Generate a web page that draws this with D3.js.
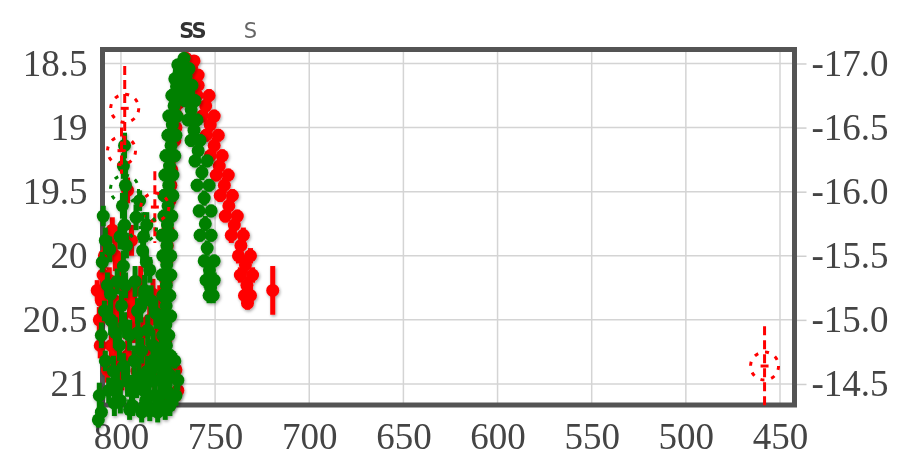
<!DOCTYPE html>
<html>
<head>
<meta charset="utf-8">
<script src="https://cdn.jsdelivr.net/npm/d3@7"></script>
<style>
  body { margin: 0; background: #fff; }
  svg { display: block; filter: blur(0.6px); }
</style>
</head>
<body>
<svg id="chart" width="898" height="459"></svg>
<script>
// x axis is in days (reversed), left axis apparent mag, right axis absolute mag
const xTicks = [800, 750, 700, 650, 600, 550, 500, 450]
const magTicks = [18.5, 19, 19.5, 20, 20.5, 21]
const absTicks = [-17.0, -16.5, -16.0, -15.5, -15.0, -14.5]
const distMod = 35.5
const spectraDays = [762.3, 731.8]
const spectraText = ['SS', 'S']

// [day, mag, err]
const redPoints = [
  // early cluster
  [811.5, 20.50, 0.1], [810.4, 20.35, 0.1], [812.6, 20.27, 0.08], [806.2, 20.19, 0.1],
  [803.5, 20.35, 0.12], [801.9, 20.50, 0.1], [795.4, 20.35, 0.12], [792.8, 20.58, 0.1],
  [790.1, 20.74, 0.12], [787.4, 20.86, 0.1], [796.5, 20.78, 0.12], [805.1, 20.70, 0.1],
  [807.2, 20.89, 0.1], [792.8, 20.27, 0.1], [784.7, 20.50, 0.12], [781.0, 20.62, 0.1],
  [779.4, 20.35, 0.12], [782.1, 20.97, 0.1], [776.7, 21.09, 0.08], [773.0, 21.13, 0.08],
  [769.8, 21.05, 0.08], [770.8, 20.89, 0.08], [800.8, 20.08, 0.1], [808.8, 20.0, 0.1],
  [804.6, 19.80, 0.1], [794.4, 19.88, 0.12], [796.5, 19.49, 0.1],
  [809.5, 20.15, 0.1], [811.0, 20.70, 0.1], [803.0, 20.0, 0.12], [799.0, 20.25, 0.12],
  [797.5, 20.55, 0.1], [793.5, 20.45, 0.12], [791.5, 20.90, 0.1], [788.5, 20.60, 0.12],
  [785.5, 20.75, 0.1], [783.0, 20.30, 0.12], [780.0, 20.80, 0.1], [778.0, 20.95, 0.1],
  [799.5, 20.95, 0.1], [802.5, 20.80, 0.12], [806.0, 20.45, 0.1], [789.5, 20.20, 0.12],
  // rise
  [775.6, 20.97, 0.06], [776.2, 20.66, 0.06], [776.7, 20.35, 0.05], [775.6, 20.04, 0.05],
  [775.1, 19.80, 0.05], [774.0, 19.57, 0.05], [773.0, 19.33, 0.05], [771.4, 19.10, 0.05],
  [770.3, 18.91, 0.05], [768.7, 18.71, 0.05], [767.1, 18.55, 0.04], [765.5, 18.46, 0.04],
  [776.0, 20.82, 0.06], [776.5, 20.50, 0.06], [776.0, 20.20, 0.06], [775.4, 19.92, 0.06],
  [774.6, 19.68, 0.06], [773.5, 19.45, 0.06], [772.2, 19.22, 0.06], [770.8, 19.00, 0.06],
  [769.5, 18.81, 0.06], [767.9, 18.62, 0.05],
  // decline
  [765.5, 18.48, 0.04], [761.2, 18.48, 0.04], [763.9, 18.59, 0.04], [759.0, 18.59, 0.04],
  [759.6, 18.75, 0.05], [753.2, 18.75, 0.05], [756.9, 18.91, 0.05], [750.5, 18.91, 0.05],
  [754.8, 19.06, 0.05], [748.3, 19.06, 0.05], [752.6, 19.22, 0.05], [746.2, 19.22, 0.05],
  [749.4, 19.37, 0.05], [743.0, 19.37, 0.05], [747.3, 19.53, 0.05], [740.8, 19.53, 0.05],
  [744.6, 19.69, 0.05], [738.2, 19.69, 0.05], [741.4, 19.84, 0.06], [735.0, 19.84, 0.06],
  [737.6, 20.0, 0.06], [731.2, 20.0, 0.06], [736.6, 20.15, 0.06], [730.1, 20.15, 0.06],
  [734.4, 20.31, 0.07], [731.2, 20.31, 0.07],
  [762.5, 18.53, 0.05], [759.0, 18.67, 0.05], [755.0, 18.83, 0.06], [752.6, 18.98, 0.06],
  [750.5, 19.14, 0.06], [747.8, 19.30, 0.06], [745.1, 19.45, 0.06], [742.7, 19.61, 0.06],
  [739.8, 19.76, 0.06], [736.3, 19.92, 0.06], [733.9, 20.07, 0.07], [733.1, 20.23, 0.07],
  [732.8, 20.37, 0.05],
  [719.4, 20.27, 0.19]
]

const greenPoints = [
  // early cluster
  [798.1, 19.14, 0.1], [798.7, 19.30, 0.1], [797.6, 19.45, 0.12], [799.2, 19.61, 0.1],
  [798.1, 19.76, 0.12], [797.1, 19.92, 0.1], [798.7, 20.08, 0.12], [797.6, 20.23, 0.1],
  [799.7, 20.39, 0.12], [798.1, 20.54, 0.1], [800.8, 20.70, 0.12], [798.7, 20.86, 0.1],
  [801.9, 21.01, 0.12], [800.3, 21.13, 0.1],
  [809.4, 19.69, 0.08], [808.3, 19.88, 0.1], [809.9, 20.05, 0.08], [807.2, 20.23, 0.1],
  [808.8, 20.43, 0.08], [810.4, 20.62, 0.1], [808.3, 20.82, 0.08], [811.5, 21.09, 0.1],
  [810.4, 21.22, 0.08], [812.0, 21.28, 0.06],
  [790.1, 19.57, 0.08], [786.3, 19.76, 0.1], [788.5, 19.96, 0.08], [784.7, 20.11, 0.1],
  [787.4, 20.27, 0.12], [791.2, 20.43, 0.1], [785.8, 20.58, 0.12], [789.0, 20.74, 0.1],
  [783.7, 20.89, 0.12], [791.7, 21.01, 0.1], [786.9, 21.13, 0.1], [782.1, 21.09, 0.1],
  [779.4, 20.97, 0.12], [780.5, 20.78, 0.1], [777.8, 20.54, 0.1], [793.8, 21.17, 0.08],
  [784.7, 21.21, 0.08], [774.0, 21.17, 0.08], [770.8, 21.09, 0.08], [769.8, 20.97, 0.08],
  [771.4, 20.82, 0.06],
  [795.4, 20.62, 0.12], [793.0, 20.82, 0.12], [790.5, 20.95, 0.12], [788.0, 21.05, 0.12],
  [785.0, 20.98, 0.12], [782.6, 20.86, 0.12], [780.0, 21.15, 0.1], [777.0, 21.00, 0.1],
  [776.0, 20.70, 0.1], [794.4, 21.05, 0.12], [791.0, 20.60, 0.12], [789.5, 20.40, 0.12],
  [784.0, 20.35, 0.12], [781.5, 20.45, 0.12], [778.6, 20.72, 0.1], [796.5, 20.98, 0.12],
  [795.4, 21.20, 0.08], [789.0, 21.22, 0.08], [780.5, 21.22, 0.08], [776.5, 21.20, 0.08],
  [792.5, 20.20, 0.12], [786.0, 20.90, 0.12], [783.0, 20.70, 0.12], [788.0, 19.85, 0.1],
  [786.5, 20.05, 0.1], [792.0, 19.70, 0.1],
  [806.0, 19.95, 0.1], [805.5, 20.50, 0.12], [803.0, 20.60, 0.12], [804.0, 20.90, 0.12],
  [806.5, 21.05, 0.1], [803.5, 21.15, 0.1], [802.0, 20.20, 0.1], [800.5, 19.85, 0.1],
  [805.5, 20.30, 0.1],
  // rise
  [778.9, 21.09, 0.06], [773.6, 21.09, 0.06], [777.8, 20.93, 0.06], [774.0, 20.93, 0.06],
  [778.9, 20.78, 0.05], [773.6, 20.78, 0.05], [777.8, 20.62, 0.05], [774.6, 20.62, 0.05],
  [778.9, 20.47, 0.05], [773.6, 20.47, 0.05], [777.8, 20.31, 0.05], [774.0, 20.31, 0.05],
  [778.3, 20.15, 0.05], [773.5, 20.15, 0.05], [777.8, 20.0, 0.05], [773.5, 20.0, 0.05],
  [778.3, 19.84, 0.05], [773.0, 19.84, 0.05], [777.2, 19.69, 0.05], [773.0, 19.69, 0.05],
  [777.2, 19.53, 0.05], [772.4, 19.53, 0.05], [776.7, 19.37, 0.05], [772.4, 19.37, 0.05],
  [776.2, 19.22, 0.05], [771.4, 19.22, 0.05], [775.1, 19.06, 0.05], [770.8, 19.06, 0.05],
  [774.6, 18.91, 0.05], [770.3, 18.91, 0.05], [773.0, 18.75, 0.05], [769.2, 18.75, 0.05],
  [771.4, 18.62, 0.05], [768.1, 18.62, 0.05], [769.8, 18.51, 0.04], [767.1, 18.51, 0.04],
  [766.5, 18.46, 0.04],
  [776.0, 21.01, 0.06], [776.2, 20.85, 0.06], [776.0, 20.70, 0.06], [776.2, 20.54, 0.06],
  [776.0, 20.39, 0.06], [775.9, 20.23, 0.06], [775.7, 20.07, 0.06], [775.6, 19.92, 0.06],
  [775.3, 19.76, 0.06], [775.0, 19.61, 0.06], [774.6, 19.45, 0.06], [774.2, 19.30, 0.06],
  [773.4, 19.14, 0.06], [772.7, 18.98, 0.06], [771.8, 18.83, 0.06], [770.5, 18.68, 0.05],
  [769.0, 18.56, 0.05],
  // decline
  [768.1, 18.54, 0.04], [763.9, 18.54, 0.04], [767.1, 18.67, 0.04], [762.3, 18.67, 0.04],
  [766.0, 18.79, 0.05], [760.7, 18.79, 0.05], [764.4, 18.94, 0.05], [759.6, 18.94, 0.05],
  [762.8, 19.10, 0.05], [758.0, 19.10, 0.05], [760.7, 19.26, 0.05], [754.2, 19.26, 0.05],
  [759.6, 19.45, 0.05], [753.2, 19.45, 0.05], [758.5, 19.65, 0.05], [752.1, 19.65, 0.05],
  [758.0, 19.84, 0.05], [752.1, 19.84, 0.05], [755.8, 20.04, 0.05], [750.5, 20.04, 0.05],
  [754.8, 20.19, 0.06], [750.5, 20.19, 0.06], [753.2, 20.31, 0.06], [751.0, 20.31, 0.06],
  [765.4, 18.60, 0.05], [764.0, 18.73, 0.05], [762.7, 18.86, 0.05], [761.2, 19.02, 0.06],
  [759.0, 19.18, 0.06], [757.0, 19.35, 0.06], [755.8, 19.55, 0.06], [755.2, 19.75, 0.06],
  [754.2, 19.94, 0.06], [753.0, 20.11, 0.06], [752.4, 20.25, 0.06]
]

// low significance points, drawn dashed
const redDashed = [[798.0, 18.85, 0.33], [799.7, 19.18, 0.18], [782.0, 19.62, 0.28], [458.2, 20.86, 0.31]]
const greenDashed = [[798.1, 19.48, 0.14], [788.5, 19.78, 0.12]]

const svg = d3.select('#chart')
const plotLeft = 102.5
const plotRight = 794.5
const plotTop = 49.5
const plotBottom = 405
const labelFont = '"Liberation Serif", "Times New Roman", serif'

const xScale = d3.scaleLinear().domain([809.8, 442.3]).range([plotLeft, plotRight])
const yScale = d3.scaleLinear().domain([18.391, 21.164]).range([plotTop, plotBottom])
const yAbs = d3.scaleLinear().domain([18.391 - distMod, 21.164 - distMod]).range([plotTop, plotBottom])

svg.append('defs')
  .append('filter')
  .attr('id', 'shadow')
  .attr('x', '-20%').attr('y', '-20%').attr('width', '140%').attr('height', '140%')
  .append('feDropShadow')
  .attr('dx', 1)
  .attr('dy', 1.5)
  .attr('stdDeviation', 1.5)
  .attr('flood-color', '#000')
  .attr('flood-opacity', 0.35)

// grid
const grid = svg.append('g').attr('stroke', '#d4d4d4').attr('stroke-width', 1.5)
grid.selectAll('.vgrid')
  .data(xTicks)
  .join('line')
  .attr('class', 'vgrid')
  .attr('x1', d => xScale(d)).attr('x2', d => xScale(d))
  .attr('y1', plotTop).attr('y2', plotBottom)
grid.selectAll('.hgrid')
  .data(magTicks)
  .join('line')
  .attr('class', 'hgrid')
  .attr('x1', plotLeft).attr('x2', plotRight)
  .attr('y1', d => yScale(d)).attr('y2', d => yScale(d))

// right axis ticks and labels
const rightAxis = d3.axisRight(yAbs)
  .tickValues(absTicks)
  .tickSize(12)
  .tickPadding(5)
  .tickFormat(d => d3.format('.1f')(d).replace('\u2212', '-'))
const ra = svg.append('g').attr('transform', `translate(${plotRight},0)`).call(rightAxis)
ra.select('.domain').remove()
ra.selectAll('line').attr('stroke', '#cfcfcf').attr('stroke-width', 1.5)
ra.selectAll('text')
  .attr('fill', '#444')
  .style('font-family', labelFont)
  .style('font-size', '37px')

// left axis
const leftAxis = d3.axisLeft(yScale)
  .tickValues(magTicks)
  .tickSize(0)
  .tickPadding(15)
  .tickFormat(d => String(d))
const la = svg.append('g').attr('transform', `translate(${plotLeft},0)`).call(leftAxis)
la.select('.domain').remove()
la.selectAll('text')
  .attr('fill', '#444')
  .style('font-family', labelFont)
  .style('font-size', '37px')

// bottom axis
const bottomAxis = d3.axisBottom(xScale)
  .tickValues(xTicks)
  .tickSize(0)
  .tickPadding(18)
  .tickFormat(d => String(d))
const ba = svg.append('g').attr('transform', `translate(0,${plotBottom})`).call(bottomAxis)
ba.select('.domain').remove()
ba.selectAll('text')
  .attr('fill', '#444')
  .style('font-family', labelFont)
  .style('font-size', '37px')

// frame
svg.append('rect')
  .attr('x', plotLeft)
  .attr('y', plotTop)
  .attr('width', plotRight - plotLeft)
  .attr('height', plotBottom - plotTop)
  .attr('fill', 'none')
  .attr('stroke', '#545454')
  .attr('stroke-width', 5)

// spectra markers along the top
svg.append('g')
  .selectAll('text')
  .data(spectraDays)
  .join('text')
  .attr('x', d => xScale(d))
  .attr('y', 38)
  .attr('text-anchor', 'middle')
  .attr('fill', (d, i) => (spectraText[i].length > 1 ? '#333' : '#666'))
  .style('font-family', '"DejaVu Sans", sans-serif')
  .style('font-size', '21px')
  .style('font-weight', (d, i) => (spectraText[i].length > 1 ? 'bold' : 'normal'))
  .style('letter-spacing', '-2px')
  .text((d, i) => spectraText[i])

function drawSolid(data, color) {
  const g = svg.append('g').attr('filter', 'url(#shadow)')
  g.selectAll('line')
    .data(data)
    .join('line')
    .attr('x1', d => xScale(d[0])).attr('x2', d => xScale(d[0]))
    .attr('y1', d => yScale(d[1] - d[2])).attr('y2', d => yScale(d[1] + d[2]))
    .attr('stroke', color)
    .attr('stroke-width', 5)
  g.selectAll('circle')
    .data(data)
    .join('circle')
    .attr('cx', d => xScale(d[0]))
    .attr('cy', d => yScale(d[1]))
    .attr('r', 6.5)
    .attr('fill', color)
}

function drawDashed(data, color) {
  const g = svg.append('g')
  g.selectAll('.err')
    .data(data)
    .join('line')
    .attr('class', 'err')
    .attr('x1', d => xScale(d[0])).attr('x2', d => xScale(d[0]))
    .attr('y1', d => yScale(d[1] - d[2])).attr('y2', d => yScale(d[1] + d[2]))
    .attr('stroke', color)
    .attr('stroke-width', 3)
    .attr('stroke-dasharray', '9,5')
  g.selectAll('.ring')
    .data(data)
    .join('circle')
    .attr('class', 'ring')
    .attr('cx', d => xScale(d[0]))
    .attr('cy', d => yScale(d[1]))
    .attr('r', 14)
    .attr('fill', 'none')
    .attr('stroke', color)
    .attr('stroke-width', 3)
    .attr('stroke-dasharray', '4,7')
  g.selectAll('.mid')
    .data(data)
    .join('line')
    .attr('class', 'mid')
    .attr('x1', d => xScale(d[0]) - 4).attr('x2', d => xScale(d[0]) + 4)
    .attr('y1', d => yScale(d[1])).attr('y2', d => yScale(d[1]))
    .attr('stroke', color)
    .attr('stroke-width', 3)
}

drawSolid(redPoints, '#ff0000')
drawSolid(greenPoints, '#008000')
drawDashed(redDashed, '#ff0000')
drawDashed(greenDashed, '#008000')
</script>
</body>
</html>
